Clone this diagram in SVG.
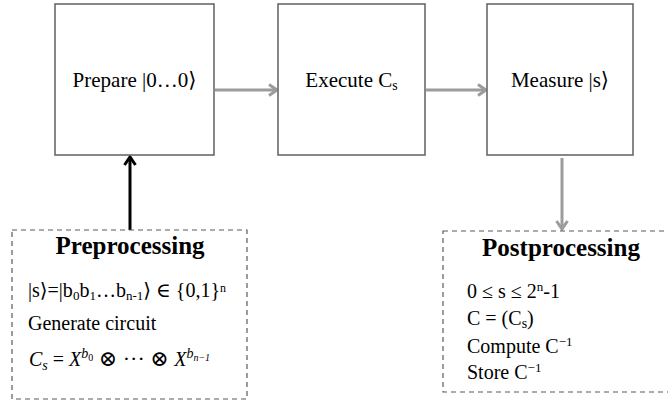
<svg xmlns="http://www.w3.org/2000/svg" width="668" height="403" viewBox="0 0 668 403">
  <style>
    .box { fill: #ffffff; stroke: #6a6a6a; stroke-width: 1.6; }
    .dash { fill: #ffffff; stroke: #5a5a5a; stroke-width: 1.2; stroke-dasharray: 5 4; }
    .flow { fill: none; stroke: #9c9c9c; stroke-width: 3; }
    .feed { fill: none; stroke: #000000; stroke-width: 3; }
    text { font-family: "Liberation Serif", "Times New Roman", "DejaVu Serif", serif; fill: #000000; }
    .lbl { font-size: 21px; text-anchor: middle; }
    .ttl { font-size: 25px; font-weight: bold; text-anchor: middle; }
    .itm { font-size: 20px; }
    .it { font-style: italic; }
  </style>
  <defs>
    <marker id="headGray" markerUnits="userSpaceOnUse" markerWidth="14" markerHeight="14" refX="10" refY="7" orient="auto">
      <path d="M2,1.5 L10,7 L2,12.5" fill="none" stroke="#9c9c9c" stroke-width="3"/>
    </marker>
    <marker id="headBlack" markerUnits="userSpaceOnUse" markerWidth="14" markerHeight="14" refX="10" refY="7" orient="auto">
      <path d="M2,1.5 L10,7 L2,12.5" fill="none" stroke="#000000" stroke-width="3"/>
    </marker>
  </defs>

  <g id="connectors">
    <line class="flow" x1="215" y1="90" x2="277" y2="90" marker-end="url(#headGray)"/>
    <line class="flow" x1="426" y1="90" x2="486" y2="90" marker-end="url(#headGray)"/>
    <line class="flow" x1="562" y1="158" x2="562" y2="229" marker-end="url(#headGray)"/>
    <line class="feed" x1="130" y1="230" x2="130" y2="157" marker-end="url(#headBlack)"/>
  </g>

  <g id="prepare">
    <rect class="box" x="55" y="4" width="159" height="151"/>
    <text class="lbl" x="134.5" y="87" textLength="124" lengthAdjust="spacingAndGlyphs">Prepare |0…0⟩</text>
  </g>

  <g id="execute">
    <rect class="box" x="278" y="4" width="147" height="151"/>
    <text class="lbl" x="351.5" y="87">Execute C<tspan font-size="14" dy="3">s</tspan></text>
  </g>

  <g id="measure">
    <rect class="box" x="487" y="4" width="146" height="151"/>
    <text class="lbl" x="560" y="87">Measure |s⟩</text>
  </g>

  <g id="preprocessing">
    <rect class="dash" x="12" y="230" width="235" height="169"/>
    <text class="ttl" x="130" y="254">Preprocessing</text>
    <text class="itm" x="28" y="297">|s⟩=|b<tspan font-size="13" dy="3">0</tspan><tspan dy="-3">b</tspan><tspan font-size="13" dy="3">1</tspan><tspan dy="-3">…b</tspan><tspan font-size="13" dy="3">n-1</tspan><tspan dy="-3">⟩ ∈ {0,1}</tspan><tspan font-size="12" dy="-5">n</tspan></text>
    <text class="itm" x="28" y="330">Generate circuit</text>
    <text class="itm" x="29" y="366"><tspan class="it">C</tspan><tspan class="it" font-size="14" dy="4">s</tspan><tspan dy="-4"> = </tspan><tspan class="it">X</tspan><tspan class="it" font-size="14" dy="-8">b</tspan><tspan font-size="10" dy="3">0</tspan><tspan font-size="22" dy="5"> ⊗ ··· ⊗ </tspan><tspan class="it">X</tspan><tspan class="it" font-size="14" dy="-8">b</tspan><tspan class="it" font-size="10" dy="3">n−1</tspan></text>
  </g>

  <g id="postprocessing">
    <rect class="dash" x="443" y="231" width="232" height="161"/>
    <text class="ttl" x="561" y="256">Postprocessing</text>
    <text class="itm" x="467" y="298">0 ≤ s ≤ 2<tspan font-size="13" dy="-7">n</tspan><tspan dy="7">-1</tspan></text>
    <text class="itm" x="467" y="325">C = (C<tspan font-size="14" dy="3">s</tspan><tspan dy="-3">)</tspan></text>
    <text class="itm" x="467" y="353">Compute C<tspan font-size="13" dy="-7">−1</tspan></text>
    <text class="itm" x="467" y="379">Store C<tspan font-size="13" dy="-7">−1</tspan></text>
  </g>
</svg>
